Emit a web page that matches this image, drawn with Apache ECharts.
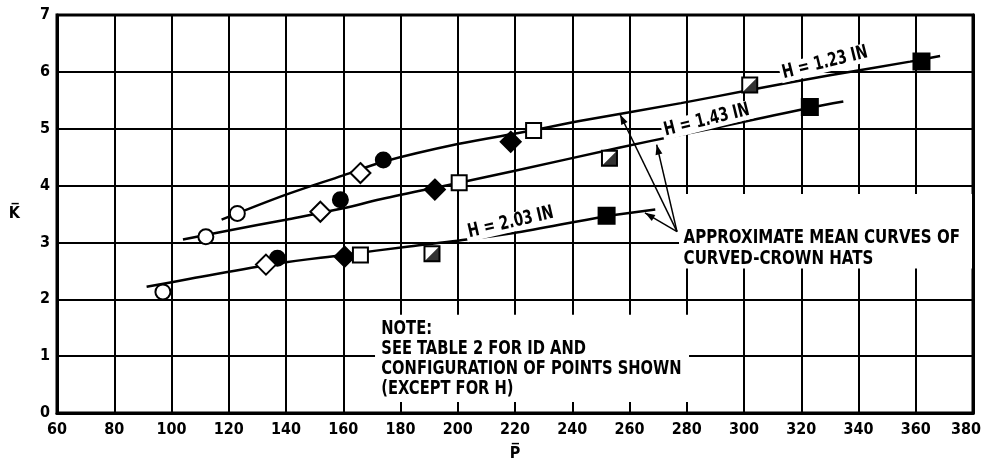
<!DOCTYPE html>
<html><head><meta charset="utf-8">
<script src="https://cdn.jsdelivr.net/npm/echarts@6/dist/echarts.min.js"></script>
<style>html,body{margin:0;padding:0;background:#fff;overflow:hidden}#c{width:984px;height:460px}</style>
</head><body><div id="c"></div>
<script>
// ---- data ----
const xTicks = [60,80,100,120,140,160,180,200,220,240,260,280,300,320,340,360,380];
const yTicks = [0,1,2,3,4,5,6,7];
const openCircle    = [[97,2.13],[112,3.10],[123,3.51]];
const filledCircle  = [[137,2.72],[159,3.75],[174,4.45]];
const openDiamond   = [[133,2.61],[152,3.54],[166,4.22]];
const filledDiamond = [[160.5,2.75],[192,3.93],[218.5,4.77]];
const openSquare    = [[166,2.78],[200.5,4.05],[226.5,4.97]];
const halfSquare    = [[191,2.80],[253,4.48],[302,5.77]];
const filledSquare  = [[252,3.47],[323,5.38],[362,6.18]];
const curveH123 = [[117.5,3.40],[140,3.84],[160,4.18],[174,4.42],[200,4.73],[225,4.96],[243,5.14],[278,5.45],[302,5.68],[330,5.94],[358,6.18],[368.5,6.28]];
const curveH143 = [[104,3.05],[120,3.21],[140,3.40],[160,3.60],[173,3.76],[200.5,4.05],[220,4.26],[256.7,4.67],[277.6,4.89],[300,5.12],[323,5.37],[334.7,5.48]];
const curveH203 = [[91.3,2.22],[106.5,2.36],[137,2.63],[160,2.78],[183,2.93],[200,3.03],[219,3.16],[252,3.46],[269,3.58]];
const curveLabels = ['H = 1.23 IN','H = 1.43 IN','H = 2.03 IN'];
const noteText = 'NOTE:\nSEE TABLE 2 FOR ID AND\nCONFIGURATION OF POINTS SHOWN\n(EXCEPT FOR H)';
const meanText = 'APPROXIMATE MEAN CURVES OF\nCURVED-CROWN HATS';

const FONT = "'DejaVu Sans Condensed','Liberation Sans Narrow','Liberation Sans',sans-serif";
const chart = echarts.init(document.getElementById('c'), null, {renderer:'canvas', width:984, height:460});

function lineSeries(data){
  return {type:'line', data:data, smooth:0.35, symbol:'none', z:3,
    lineStyle:{color:'#000', width:2.5}, xAxisIndex:0, yAxisIndex:0};
}
function markSeries(data, symbol, size, fill){
  return {type:'scatter', data:data, symbol:symbol, symbolSize:size, z:5,
    itemStyle:{color:fill, borderColor:'#000', borderWidth:2, opacity:1}, xAxisIndex:0, yAxisIndex:0};
}
const label = {fontFamily:FONT, fontWeight:'bold', fontSize:16, color:'#000'};
const frameLine = {show:true, onZero:false, lineStyle:{color:'#000', width:3}};

chart.setOption({
  animation:false,
  backgroundColor:'#fff',
  grid:{left:57, right:11, top:15, bottom:47, outerBoundsMode:'none', containLabel:false,
    show:true, borderColor:'#000', borderWidth:3, backgroundColor:'#fff'},
  xAxis:[
    {type:'value', min:60, max:380, interval:20, z:0,
      splitLine:{show:true, lineStyle:{color:'#000', width:2}},
      axisLine:{show:false}, axisTick:{show:false}, axisLabel:{show:false}},
    {type:'value', min:60, max:380, interval:20, position:'bottom', z:6,
      splitLine:{show:false}, axisLine:frameLine,
      axisTick:{show:true, inside:true, length:11, lineStyle:{color:'#000', width:2}},
      axisLabel:Object.assign({margin:9,
        formatter:v=>!xTicks.includes(v)?'':(v===380?'{m|380}':String(v)),
        rich:{m:Object.assign({padding:[0,14,0,0]}, label)}}, label),
      name:'P\u0305', nameLocation:'middle', nameGap:33, nameTextStyle:label}
  ],
  yAxis:[
    {type:'value', min:0, max:7, interval:1, z:0,
      splitLine:{show:true, lineStyle:{color:'#000', width:2}},
      axisLine:{show:false}, axisTick:{show:false}, axisLabel:{show:false}},
    {type:'value', min:0, max:7, interval:1, position:'left', z:6,
      splitLine:{show:false}, axisLine:frameLine, axisTick:{show:false},
      axisLabel:Object.assign({margin:7, formatter:v=>yTicks.includes(v)?String(v):''}, label),
      name:'K\u0305', nameLocation:'middle', nameGap:37, nameRotate:0, nameTextStyle:label},
    {type:'value', min:0, max:7, interval:1, position:'right', z:6,
      splitLine:{show:false}, axisLine:frameLine, axisTick:{show:false}, axisLabel:{show:false}}
  ],
  series:[
    lineSeries(curveH123), lineSeries(curveH143), lineSeries(curveH203),
    markSeries(openCircle,'circle',15,'#fff'),
    markSeries(filledCircle,'circle',15,'#000'),
    markSeries(openDiamond,'diamond',20,'#fff'),
    markSeries(filledDiamond,'diamond',20,'#000'),
    markSeries(openSquare,'rect',15,'#fff'),
    markSeries(halfSquare,'rect',15,'#fff'),
    Object.assign(markSeries(halfSquare,'path://M1,0 L1,1 L0,1 Z',15,'#000'),{z:6, itemStyle:{color:'#000', borderWidth:0}}),
    markSeries(filledSquare,'rect',16,'#000')
  ]
});

const P = (x,y)=>chart.convertToPixel({gridIndex:0},[x,y]);
const g = [];
// white blanking boxes behind the note and the annotation
function box(x0,y0,x1,y1){
  const a=P(x0,y0), b=P(x1,y1);
  g.push({type:'rect', z:1, shape:{x:a[0], y:a[1], width:b[0]-a[0], height:b[1]-a[1]}, style:{fill:'#fff'}});
}
box(171.1,1.73,280.8,0.04);
box(277.3,3.85,379.9,2.54);

const tfont = {fontFamily:FONT, fontWeight:'bold', fontSize:19, fill:'#000'};
function rotText(txt,x,y,deg){
  const p=P(x,y);
  g.push({type:'text', z:10, x:p[0], y:p[1], rotation:deg*Math.PI/180, scaleX:0.8,
    style:Object.assign({text:txt, textAlign:'center', textVerticalAlign:'middle', backgroundColor:'#fff', padding:[0,3]}, tfont)});
}
rotText(curveLabels[0],328.3,6.16,14);
rotText(curveLabels[1],287,5.15,14);
rotText(curveLabels[2],218.5,3.35,13);

const np=P(173.3,1.66);
g.push({type:'text', z:10, x:np[0], y:np[1], scaleX:0.86, style:Object.assign({text:noteText, textAlign:'left', textVerticalAlign:'top', lineHeight:20}, tfont)});
const mp=P(278.9,3.26);
g.push({type:'text', z:10, x:mp[0], y:mp[1], scaleX:0.88, style:Object.assign({text:meanText, textAlign:'left', textVerticalAlign:'top', lineHeight:21}, tfont)});

// leader arrows
const c0=P(276.6,3.19);
[[256.7,5.25],[269.5,4.72],[265.4,3.52]].forEach(e=>{
  const p=P(e[0],e[1]);
  g.push({type:'line', z:10, shape:{x1:c0[0],y1:c0[1],x2:p[0],y2:p[1]}, style:{stroke:'#000', lineWidth:1.5}});
  const dx=p[0]-c0[0], dy=p[1]-c0[1], L=Math.hypot(dx,dy), ux=dx/L, uy=dy/L;
  const bx=p[0]-ux*10, by=p[1]-uy*10;
  g.push({type:'polygon', z:10, shape:{points:[[p[0],p[1]],[bx-uy*3.5,by+ux*3.5],[bx+uy*3.5,by-ux*3.5]]}, style:{fill:'#000'}});
});
chart.setOption({graphic:g});
</script></body></html>
